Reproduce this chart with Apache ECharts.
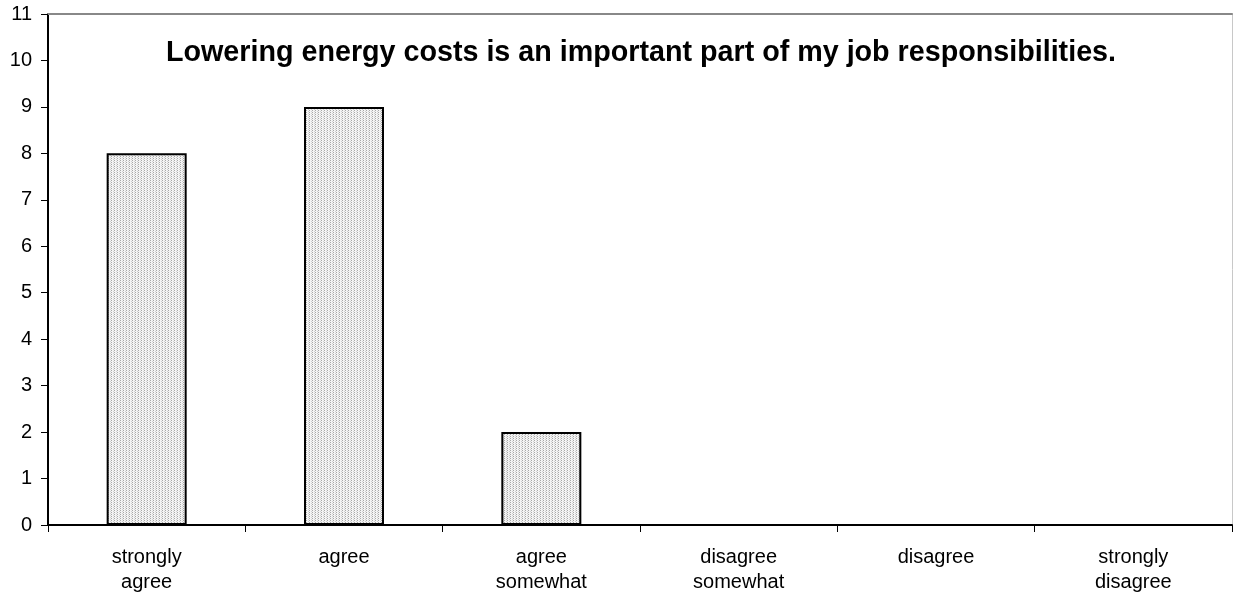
<!DOCTYPE html>
<html>
<head>
<meta charset="utf-8">
<script src="https://cdn.jsdelivr.net/npm/echarts@6/dist/echarts.min.js"></script>
<style>html,body{margin:0;padding:0;background:#fff}#c{width:1233px;height:600px}</style>
</head>
<body>
<div id="c"></div>
<script>
const categories = ['strongly\nagree', 'agree', 'agree\nsomewhat', 'disagree\nsomewhat', 'disagree', 'strongly\ndisagree'];
const values = [8, 9, 2, 0, 0, 0];
const titleText = 'Lowering energy costs is an important part of my job responsibilities.';

const pc = document.createElement('canvas');
pc.width = 3; pc.height = 2;
const ctx = pc.getContext('2d');
ctx.fillStyle = '#f4f4f4'; ctx.fillRect(0, 0, 3, 2);
ctx.fillStyle = '#a8a8a8'; ctx.fillRect(0, 0, 1, 1);
ctx.fillStyle = '#d0d0d0'; ctx.fillRect(2, 1, 1, 1);

const chart = echarts.init(document.getElementById('c'));
const font = 'Liberation Sans, Arial, sans-serif';
chart.setOption({
  animation: false,
  backgroundColor: '#fff',
  title: {
    text: titleText, left: 636, top: 34, textAlign: 'center',
    textStyle: { fontFamily: font, fontSize: 28.7, fontWeight: 'bold', color: '#000' }
  },
  grid: { left: 48, right: 1, top: 14, bottom: 75 },
  xAxis: [{
    type: 'category', data: categories, position: 'bottom',
    axisLine: { lineStyle: { color: '#000', width: 2 } },
    axisTick: { show: true, length: 7, lineStyle: { color: '#000', width: 1 } },
    axisLabel: { fontFamily: font, fontSize: 20, color: '#000', margin: 20, lineHeight: 25, interval: 0 }
  }, {
    type: 'category', data: categories, position: 'top',
    axisLine: { onZero: false, lineStyle: { color: '#888', width: 2 } },
    axisTick: { show: false }, axisLabel: { show: false }
  }],
  yAxis: [{
    type: 'value', min: 0, max: 11, interval: 1,
    axisLine: { show: true, lineStyle: { color: '#000', width: 2 } },
    axisTick: { show: true, length: 7, lineStyle: { color: '#000', width: 1 } },
    axisLabel: { fontFamily: font, fontSize: 20, color: '#000', margin: 16 },
    splitLine: { show: false }
  }, {
    type: 'value', min: 0, max: 11, interval: 1, position: 'right',
    axisLine: { show: true, onZero: false, lineStyle: { color: '#c8c8c8', width: 1 } },
    axisTick: { show: false }, axisLabel: { show: false }, splitLine: { show: false }
  }],
  series: [{
    type: 'bar', data: values, barWidth: 80,
    itemStyle: {
      color: { image: pc, repeat: 'repeat' },
      borderColor: '#000', borderWidth: 2
    }
  }]
});
</script>
</body>
</html>
